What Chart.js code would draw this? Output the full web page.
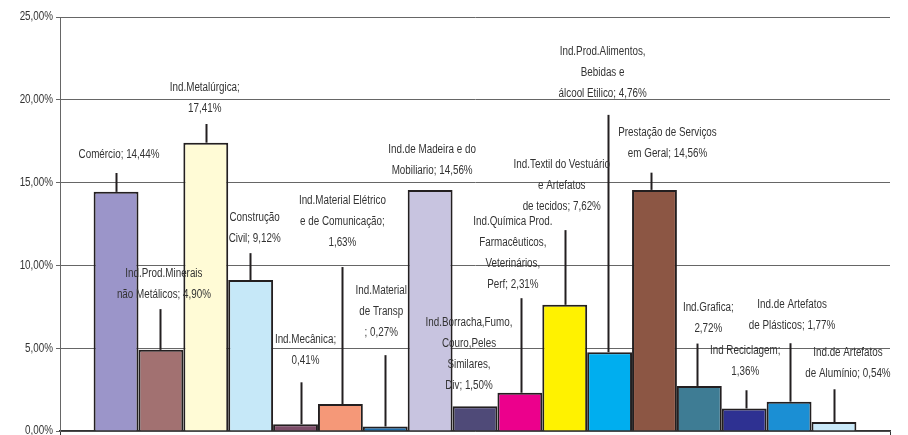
<!DOCTYPE html>
<html>
<head>
<meta charset="utf-8">
<script src="https://cdn.jsdelivr.net/npm/chart.js@4/dist/chart.umd.min.js"></script>
<style>
  html, body { margin: 0; padding: 0; background: #fff; }
  #wrap { width: 908px; height: 435px; }
</style>
</head>
<body>
<div id="wrap"><canvas id="chart"></canvas></div>
<script>
// dados: participação por setor
const categories = [
    'Comércio',
    'Ind.Prod.Minerais\nnão Metálicos',
    'Ind.Metalúrgica',
    'Construção\nCivil',
    'Ind.Mecânica',
    'Ind.Material Elétrico\ne de Comunicação',
    'Ind.Material\nde Transp\n',
    'Ind.de Madeira e do\nMobiliario',
    'Ind.Borracha,Fumo,\nCouro,Peles\nSimilares,\nDiv',
    'Ind.Química Prod.\nFarmacêuticos,\nVeterinários,\nPerf',
    'Ind.Textil do Vestuário\ne Artefatos\nde tecidos',
    'Ind.Prod.Alimentos,\nBebidas e\nálcool Etilico',
    'Prestação de Serviços\nem Geral',
    'Ind.Grafica',
    'Ind Reciclagem',
    'Ind.de Artefatos\nde Plásticos',
    'Ind.de Artefatos\nde Alumínio'
];
const shares = [14.44, 4.90, 17.41, 9.12, 0.41, 1.63, 0.27, 14.56, 1.50, 2.31, 7.62, 4.76, 14.56, 2.72, 1.36, 1.77, 0.54];
const yTicks = [0, 5, 10, 15, 20, 25];

// cores das barras
const barColors = [
    '#9b95c9', '#a27171', '#fffbd6', '#c6e8f8', '#7d4d69', '#f59878',
    '#1f6fae', '#c8c4e0', '#4f4a78', '#ec008c', '#fff200', '#00aeef',
    '#8c5644', '#3e7c94', '#2e3192', '#1b8fd4', '#c9e8f8'
];

// posição dos rótulos (dx em px a partir do centro da barra, at = altura em %),
// linha guia (lead = topo da linha em %, ldx = deslocamento), sep = separador antes do valor
const labelPos = [
    { dx: 3,   at: 16.67, lead: 15.58, ldx: 0,    sep: ' ' },
    { dx: 3,   at: 9.47,  lead: 7.36,  ldx: -1,   sep: ' ' },
    { dx: -1,  at: 20.72, lead: 18.54, ldx: 0,    sep: '\n' },
    { dx: 4,   at: 12.86, lead: 10.74, ldx: -1,   sep: ' ' },
    { dx: 10,  at: 5.54,  lead: 2.94,  ldx: 5,    sep: '\n' },
    { dx: 2,   at: 13.92, lead: 9.90,  ldx: 2,    sep: '\n' },
    { dx: -4,  at: 8.46,  lead: 4.58,  ldx: 0,    sep: ' ' },
    { dx: 2,   at: 16.97, lead: null,  ldx: 0,    sep: ' ' },
    { dx: -6,  at: 6.54,  lead: null,  ldx: 0,    sep: ' ' },
    { dx: -7,  at: 12.65, lead: 8.02,  ldx: 1.5,  sep: ' ' },
    { dx: -3,  at: 16.06, lead: 12.13, ldx: 0.5,  sep: ' ' },
    { dx: -7,  at: 22.91, lead: 19.09, ldx: -1.5, sep: ' ' },
    { dx: 13,  at: 18.0,  lead: 15.6,  ldx: -3,   sep: ' ' },
    { dx: 9,   at: 7.42,  lead: 5.28,  ldx: -2,   sep: '\n' },
    { dx: 1,   at: 4.82,  lead: 2.46,  ldx: 2,    sep: '\n' },
    { dx: 3,   at: 7.6,   lead: 5.30,  ldx: 1,    sep: ' ' },
    { dx: 14,  at: 4.74,  lead: 2.52,  ldx: 0,    sep: ' ' }
];

const FONT = '12px "Liberation Sans", Arial, sans-serif';
const NARROW = 0.82; // fonte estreita simulada

function fmtPct(v) {
    return v.toFixed(2).replace('.', ',') + '%';
}

function narrowText(ctx, str, x, y) {
    ctx.save();
    ctx.translate(x, y);
    ctx.scale(NARROW, 1);
    ctx.fillText(str, 0, 0);
    ctx.restore();
}

// rótulos do eixo Y, rótulos de dados e linhas guia
const labelPlugin = {
    id: 'barLabels',
    afterDraw(chart) {
        const ctx = chart.ctx;
        const y = chart.scales.y;
        ctx.save();
        ctx.font = FONT;
        ctx.fillStyle = '#333';
        ctx.textAlign = 'right';
        ctx.textBaseline = 'middle';
        y.ticks.forEach(t => narrowText(ctx, fmtPct(t.value), chart.chartArea.left - 7, y.getPixelForValue(t.value)));
        ctx.restore();
    },
    afterDatasetsDraw(chart) {
        const ctx = chart.ctx;
        const y = chart.scales.y;
        ctx.save();
        ctx.strokeStyle = '#231f20';
        ctx.lineWidth = 2;
        labelPos.forEach((p, i) => {
            const bar = chart.getDatasetMeta(i).data[0];
            if (p.lead == null) return;
            const lx = Math.round(bar.x + p.ldx) + 0.5;
            ctx.beginPath();
            ctx.moveTo(lx, y.getPixelForValue(p.lead));
            ctx.lineTo(lx, bar.y);
            ctx.stroke();
        });
        ctx.font = FONT;
        ctx.fillStyle = '#333';
        ctx.textAlign = 'center';
        ctx.textBaseline = 'middle';
        labelPos.forEach((p, i) => {
            const bar = chart.getDatasetMeta(i).data[0];
            const text = categories[i] + ';' + p.sep + fmtPct(shares[i]);
            const top = y.getPixelForValue(p.at);
            text.split('\n').forEach((line, k) => {
                narrowText(ctx, line, bar.x + p.dx, top + k * 21);
            });
        });
        ctx.restore();
    }
};

const datasets = categories.map((name, i) => ({
    label: name,
    data: [shares[i]],
    backgroundColor: barColors[i],
    borderColor: '#231f20',
    borderWidth: 2,
    categoryPercentage: 0.919,
    barPercentage: 1.0
}));

new Chart(document.getElementById('chart'), {
    type: 'bar',
    data: { labels: [''], datasets: datasets },
    options: {
        responsive: true,
        maintainAspectRatio: false,
        animation: false,
        layout: { padding: { top: 17, right: 18, left: 0, bottom: 0 } },
        plugins: {
            legend: { display: false },
            tooltip: { enabled: false }
        },
        scales: {
            x: {
                offset: true,
                ticks: { display: false },
                grid: { display: true, drawOnChartArea: false, offset: true, tickLength: 4, color: '#333' },
                border: { color: '#333', width: 1.5 },
                afterFit(s) { s.height = 4; }
            },
            y: {
                min: yTicks[0],
                max: yTicks[yTicks.length - 1],
                afterBuildTicks(s) { s.ticks = yTicks.map(v => ({ value: v })); },
                ticks: { display: false },
                grid: { color: '#666', lineWidth: 1, tickLength: 4 },
                border: { color: '#666', width: 1 },
                afterFit(s) { s.width = 60; s.paddingTop = 0; s.paddingBottom = 0; }
            }
        }
    },
    plugins: [labelPlugin]
});
</script>
</body>
</html>
